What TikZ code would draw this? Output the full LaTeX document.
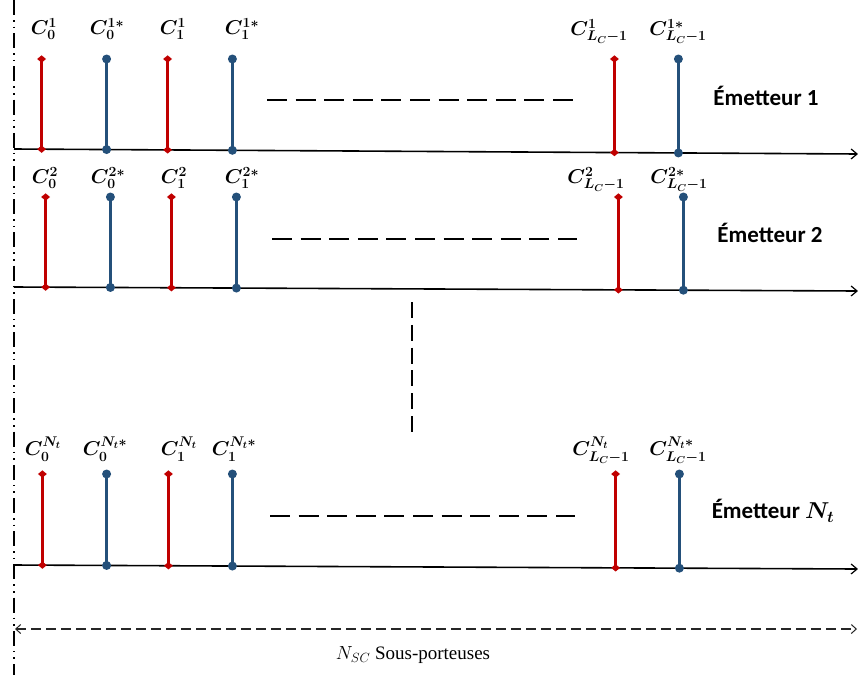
\RequirePackage{fix-cm}
\documentclass[tikz,border=0pt]{standalone}
\usepackage{fontspec}
\usepackage{amsmath,bm}
\usetikzlibrary{shapes.geometric,arrows.meta,calc}
\newfontfamily\calibri{Carlito}
\newfontfamily\tnr{Liberation Serif}
\definecolor{cred}{RGB}{192,0,0}
\definecolor{cblue}{RGB}{36,80,122}
\tikzset{
  axisline/.style={draw=black, line width=1.6pt, -{Straight Barb[length=6pt,width=10pt,line width=1.2pt]}},
  stemred/.style={draw=cred, line width=2.8pt},
  stemblue/.style={draw=cblue, line width=2.8pt},
  markred/.style={diamond, fill=cred, inner sep=0pt, minimum width=9pt, minimum height=7.5pt},
  markblue/.style={circle, fill=cblue, inner sep=0pt, minimum size=9pt},
  clabel/.style={inner sep=0pt, font=\fontsize{20}{24}\selectfont},
  emlabel/.style={inner sep=0pt, font=\calibri\bfseries\fontsize{23}{26}\selectfont},
  dotsline/.style={draw=black, line width=2pt, dash pattern=on 20pt off 8.6pt},
  vdots/.style={draw=black, line width=2.8pt, dash pattern=on 16pt off 6.8pt},
  leftline/.style={draw=black, line width=1.8pt, dash pattern=on 15pt off 5pt on 1.6pt off 5pt on 1.6pt off 5pt},
  spanarrow/.style={draw=black!85, line width=1.1pt, dash pattern=on 10pt off 5pt,
     {Straight Barb[length=5pt,width=9pt,line width=1pt]}-{Straight Barb[length=5pt,width=9pt,line width=1pt]}},
  botlabel/.style={inner sep=0pt, font=\tnr\fontsize{19}{22}\selectfont}
}
\begin{document}
\begin{tikzpicture}[x=1pt,y=-1pt]
\useasboundingbox (0,0) rectangle (858,675);
% left dash-dot line
\coordinate (L1) at (14,0);
\coordinate (L2) at (14,675);
\draw[leftline] (L1) -- (L2);

\foreach \r/\ya/\yb/\yt/\xa/\xb/\xc/\xd/\xe/\xf in
  {1/149/154/59/41.6/106.6/167.6/232.4/614.4/678.4,
   2/287/291/197/45.6/110.4/171.4/236.4/618.4/683.4,
   3/565/569/474/42.4/106.6/168.4/232.4/615.6/679.4}{
  \coordinate (s\r) at (14,\ya);
  \coordinate (e\r) at (858,\yb);
  \draw[axisline] (s\r) -- (e\r);
  \foreach \i/\x/\kind in {1/\xa/red,2/\xb/blue,3/\xc/red,4/\xd/blue,5/\xe/red,6/\xf/blue}{
    \pgfmathsetmacro\yy{\ya+(\yb-\ya)*(\x-14)/844}
    \coordinate (top\r-\i) at (\x,\yt);
    \coordinate (bot\r-\i) at (\x,\yy);
    \draw[stem\kind] (top\r-\i) -- (bot\r-\i);
    \node[mark\kind] (mt\r-\i) at (top\r-\i) {};
    \node[mark\kind] (mb\r-\i) at (bot\r-\i) {};
  }
}

% labels row 1
\node[clabel] (l11) at (44,29) {$\bm{C_0^1}$};
\node[clabel] (l12) at (107,29) {$\bm{C_0^{1*}}$};
\node[clabel] (l13) at (173,29) {$\bm{C_1^1}$};
\node[clabel] (l14) at (242,29) {$\bm{C_1^{1*}}$};
\node[clabel] (l15) at (599,31) {$\bm{C_{L_C-1}^1}$};
\node[clabel] (l16) at (678,31) {$\bm{C_{L_C-1}^{1*}}$};
% labels row 2
\node[clabel] (l21) at (45,178) {$\bm{C_0^2}$};
\node[clabel] (l22) at (108,178) {$\bm{C_0^{2*}}$};
\node[clabel] (l23) at (174,178) {$\bm{C_1^2}$};
\node[clabel] (l24) at (242,178) {$\bm{C_1^{2*}}$};
\node[clabel] (l25) at (596,179) {$\bm{C_{L_C-1}^2}$};
\node[clabel] (l26) at (679,179) {$\bm{C_{L_C-1}^{2*}}$};
% labels row 3
\node[clabel] (l31) at (43,449) {$\bm{C_0^{N_t}}$};
\node[clabel] (l32) at (105,449) {$\bm{C_0^{N_t*}}$};
\node[clabel] (l33) at (179,449) {$\bm{C_1^{N_t}}$};
\node[clabel] (l34) at (234,449) {$\bm{C_1^{N_t*}}$};
\node[clabel] (l35) at (601,450) {$\bm{C_{L_C-1}^{N_t}}$};
\node[clabel] (l36) at (678,450) {$\bm{C_{L_C-1}^{N_t*}}$};

% dashed ellipses (horizontal)
\coordinate (d1a) at (267,100); \coordinate (d1b) at (573,100);
\coordinate (d2a) at (272,239); \coordinate (d2b) at (577,239);
\coordinate (d3a) at (270,516); \coordinate (d3b) at (575,516);
\draw[dotsline] (d1a) -- (d1b);
\draw[dotsline] (d2a) -- (d2b);
\draw[dotsline] (d3a) -- (d3b);

% vertical dashes
\coordinate (v1) at (412,302); \coordinate (v2) at (412,432);
\draw[vdots] (v1) -- (v2);

% emitter labels
\node[emlabel] (em1) at (766,96) {Émetteur 1};
\node[emlabel] (em2) at (770,233) {Émetteur 2};
\node[emlabel] (em3) at (773,511) {Émetteur $\bm{N_t}$};

% span arrow
\coordinate (a1) at (15,629); \coordinate (a2) at (857,629);
\draw[spanarrow] (a1) -- (a2);
\node[botlabel] (nsc) at (413,655) {$N_{SC}$ Sous-porteuses};
\end{tikzpicture}
\end{document}
